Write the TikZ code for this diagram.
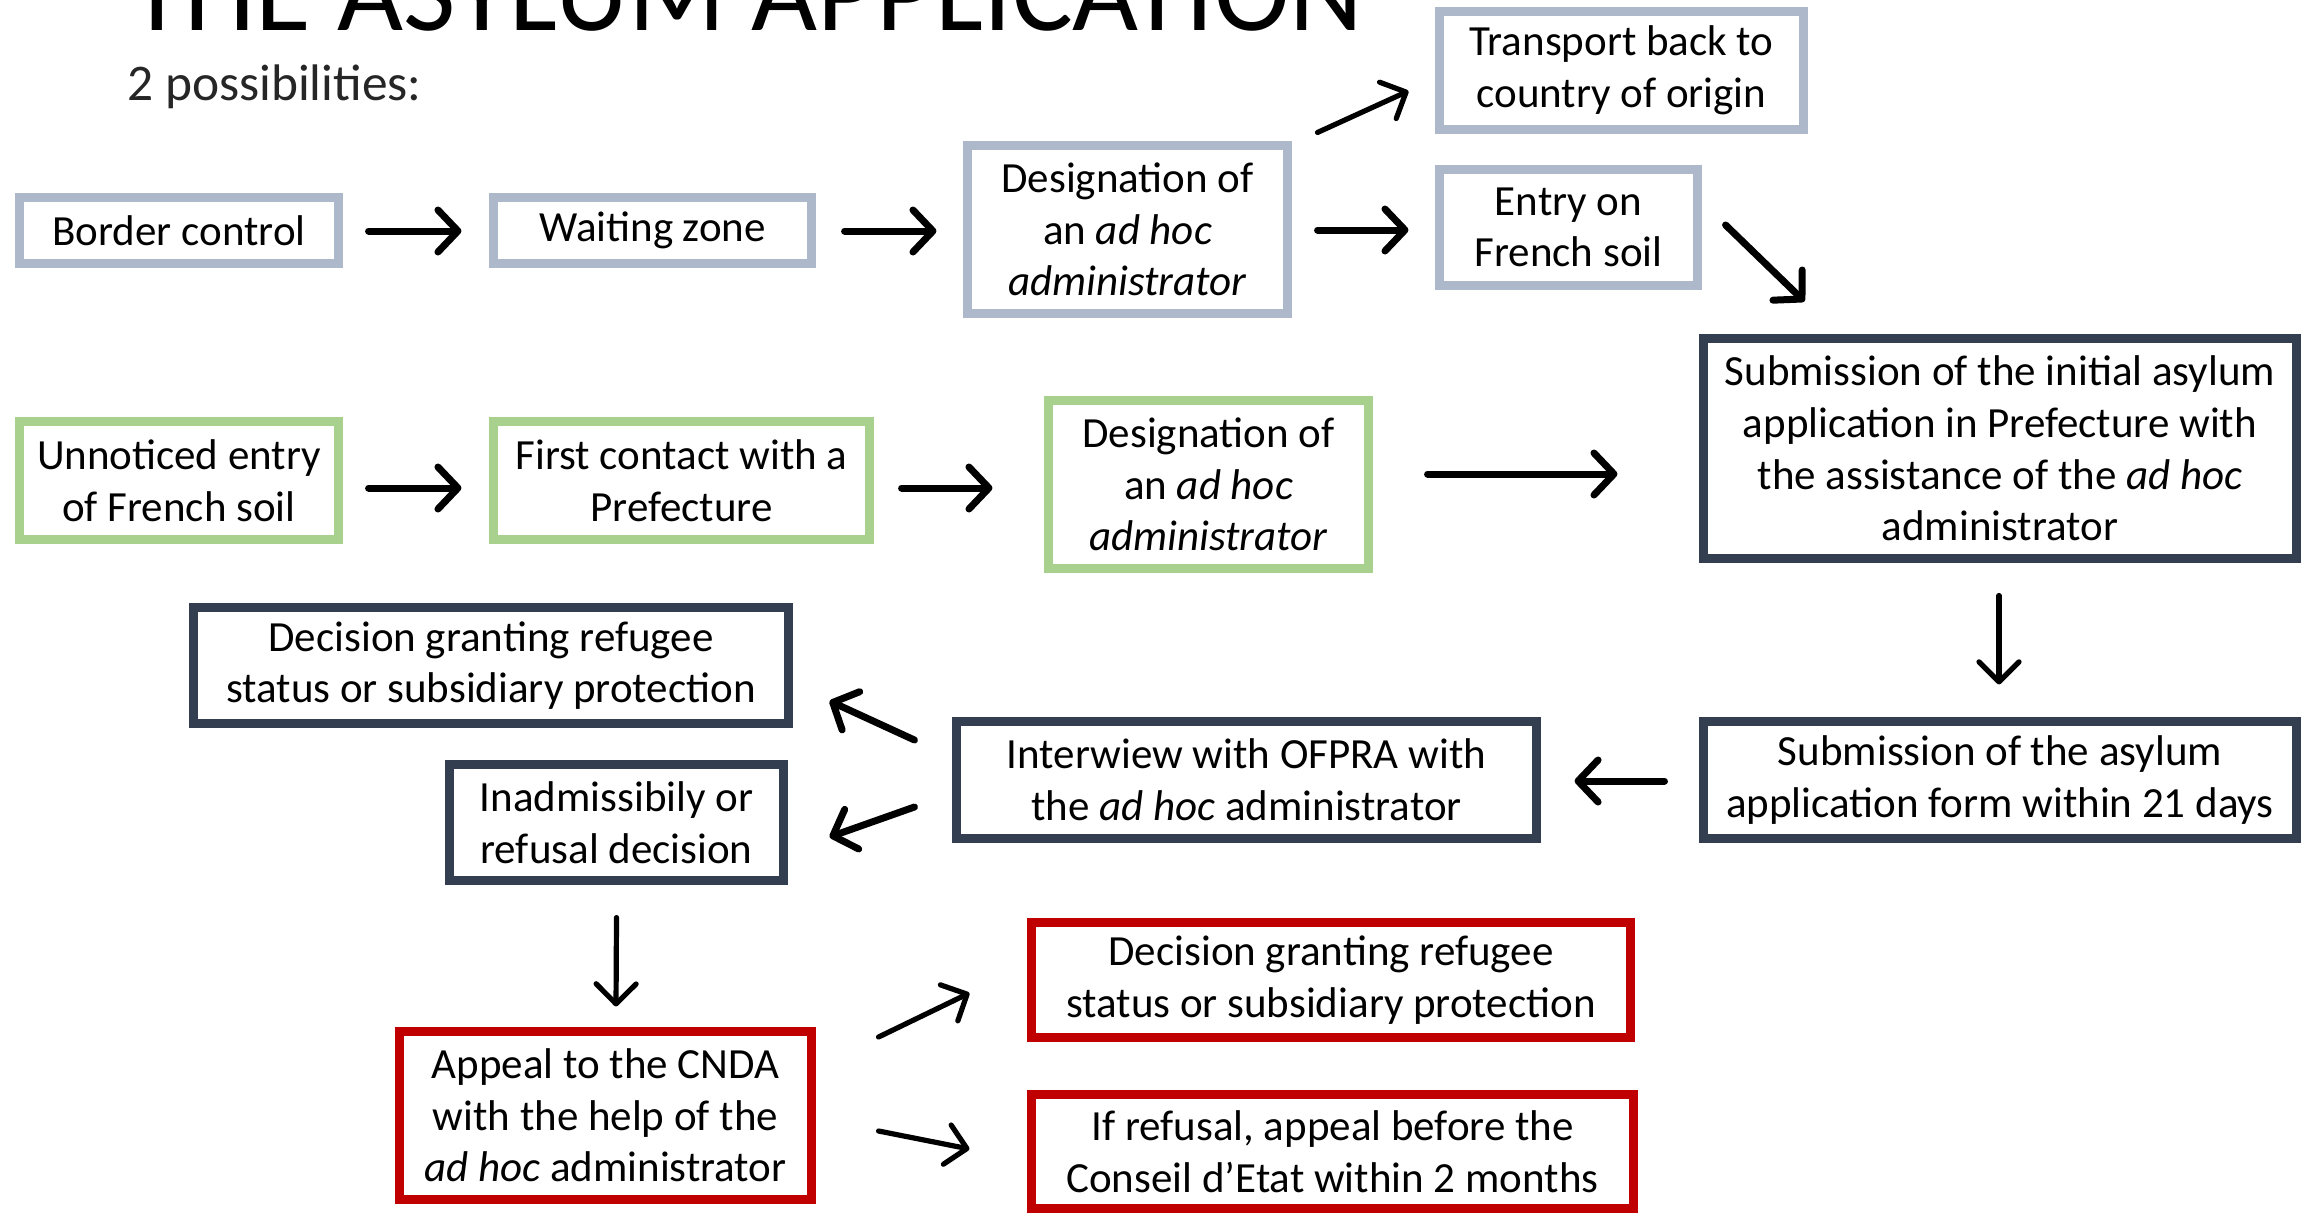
\documentclass[tikz,border=0pt]{standalone}
\usepackage{fontspec}
\setmainfont{Carlito}
\usetikzlibrary{arrows.meta}
\definecolor{graybox}{RGB}{173,185,202}
\definecolor{greenbox}{RGB}{169,209,142}
\definecolor{darkbox}{RGB}{51,63,80}
\definecolor{redbox}{RGB}{192,0,0}
\newcommand{\bxfont}{\fontsize{21.5pt}{25.8pt}\selectfont}
\begin{document}
\begin{tikzpicture}[x=0.5pt,y=-0.5pt,
  box/.style={draw, line width=4.5pt, align=center, inner sep=0pt, font=\bxfont, text=black},
  gbox/.style={box, draw=graybox},
  grbox/.style={box, draw=greenbox},
  dbox/.style={box, draw=darkbox},
  rbox/.style={box, draw=redbox},
  arr/.style={line width=3.5pt, line cap=round, -{Straight Barb[length=10pt,width=21pt,round]}},
  tarr/.style={line width=2.6pt, line cap=round, -{Straight Barb[length=10pt,width=20pt,round]}}
]
\useasboundingbox (0,0) rectangle (2310,1215);
\fill[white] (0,0) rectangle (2310,1215);

\node[anchor=base west, font=\fontsize{57pt}{60pt}\selectfont] (title) at (122,30) {THE ASYLUM APPLICATION};
\node[anchor=west, inner sep=0pt, font=\fontsize{25.7pt}{30pt}\selectfont, text=black!85] (poss) at (127,87) {2 possibilities:};

\node[gbox, minimum width=159.8pt, minimum height=33.3pt] (border) at (179,230.5) {Border control};
\node[gbox, minimum width=159.3pt, minimum height=33.3pt] (waiting) at (652.5,230.5) {Waiting zone};
\node[gbox, minimum width=160.3pt, minimum height=84.3pt] (desig1) at (1127.5,229.5) {Designation of\\an \textit{ad hoc}\\\textit{administrator}};
\node[gbox, minimum width=182.3pt, minimum height=59.3pt] (transport) at (1621.5,70.5) {Transport back to\\country of origin};
\node[gbox, minimum width=129.3pt, minimum height=58.3pt] (entry) at (1568.5,227.5) {Entry on\\French soil};

\node[grbox, minimum width=159.8pt, minimum height=59.3pt] (unnoticed) at (179,480.5) {Unnoticed entry\\of French soil};
\node[grbox, minimum width=188.3pt, minimum height=59.3pt] (first) at (681.5,480.5) {First contact with a\\Prefecture};
\node[grbox, minimum width=160.3pt, minimum height=84.3pt] (desig2) at (1208.5,484.5) {Designation of\\an \textit{ad hoc}\\\textit{administrator}};

\node[dbox, minimum width=296.8pt, minimum height=110.3pt] (subinit) at (2000,448.5) {Submission of the initial asylum\\application in Prefecture with\\the assistance of the \textit{ad hoc}\\administrator};
\node[dbox, minimum width=297.8pt, minimum height=58.3pt] (decL) at (491,665.5) {Decision granting refugee\\status or subsidiary protection};
\node[dbox, minimum width=167.3pt, minimum height=58.3pt] (inad) at (616.5,822.5) {Inadmissibily or\\refusal decision};
\node[dbox, minimum width=290.3pt, minimum height=58.8pt] (interview) at (1246.5,780) {Interwiew with OFPRA with\\the \textit{ad hoc} administrator};
\node[dbox, minimum width=296.8pt, minimum height=58.8pt] (subform) at (2000,780) {Submission of the asylum\\application form within 21 days};

\node[rbox, minimum width=206.3pt, minimum height=84.3pt] (appeal) at (605.5,1115.5) {Appeal to the CNDA\\with the help of the\\\textit{ad hoc} administrator};
\node[rbox, minimum width=299.8pt, minimum height=57.8pt] (decR) at (1331,980) {Decision granting refugee\\status or subsidiary protection};
\node[rbox, minimum width=301.3pt, minimum height=57.3pt] (refusal) at (1332.5,1151.5) {If refusal, appeal before the\\Conseil d’Etat within 2 months};

\draw[arr] ([shift={(25.25,0.5)}]border.east) -- ([shift={(-27.25,0.5)}]waiting.west);
\draw[arr] ([shift={(28.25,0.5)}]waiting.east) -- ([shift={(-26.25,1.5)}]desig1.west);
\draw[tarr] ([shift={(25.25,-8.25)}]desig1.north east) -- ([shift={(-26.25,20.5)}]transport.west);
\draw[arr] ([shift={(25.25,0.5)}]desig1.east) -- ([shift={(-26.25,2.5)}]entry.west);
\draw[arr] ([shift={(23.25,-2.5)}]entry.east) -- ([shift={(105.75,-32.25)}]subinit.north west);
\draw[arr] ([shift={(25.25,7.5)}]unnoticed.east) -- ([shift={(-27.25,7.5)}]first.west);
\draw[arr] ([shift={(27.25,7.5)}]first.east) -- ([shift={(-51.25,3.5)}]desig2.west);
\draw[arr] ([shift={(54.25,-10.5)}]desig2.east) -- ([shift={(-81.25,25.5)}]subinit.west);
\draw[tarr] ([shift={(-1,32.25)}]subinit.south) -- ([shift={(-1,-32.25)}]subform.north);
\draw[arr] ([shift={(-34.25,1)}]subform.west) -- ([shift={(33.25,1)}]interview.east);
\draw[arr] ([shift={(-37.25,-40)}]interview.west) -- ([shift={(36.25,35.5)}]decL.east);
\draw[arr] ([shift={(-37.25,27)}]interview.west) -- ([shift={(41.25,14.5)}]inad.east);
\draw[tarr] ([shift={(0,32.25)}]inad.south) -- ([shift={(10.5,-20.25)}]appeal.north);
\draw[tarr] ([shift={(62.25,-78.5)}]appeal.east) -- ([shift={(-57.25,13)}]decR.west);
\draw[tarr] ([shift={(62.25,15.5)}]appeal.east) -- ([shift={(-57.25,-2.5)}]refusal.west);
\end{tikzpicture}
\end{document}
